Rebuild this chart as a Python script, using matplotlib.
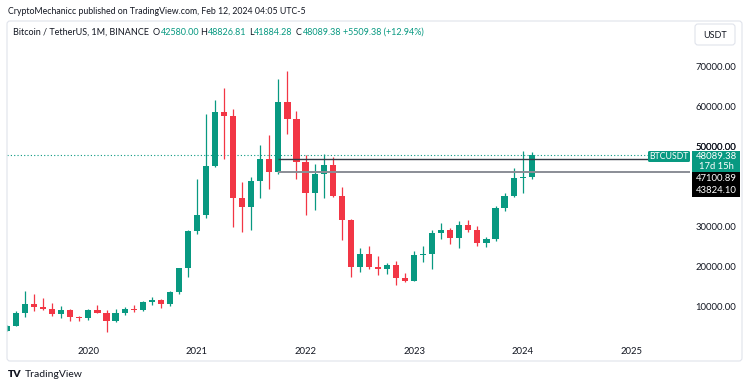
#!/usr/bin/env python3
# -*- coding: utf-8 -*-
"""
BTCUSDT monthly candles, TradingView style snapshot
"""
import matplotlib
matplotlib.use('Agg')
import matplotlib.pyplot as plt
from matplotlib.patches import FancyBboxPatch, Rectangle
from matplotlib.transforms import blended_transform_factory
import numpy as np

# monthly candles, first one is Apr 2019
months = ['2019-04', '2019-05', '2019-06', '2019-07', '2019-08', '2019-09', '2019-10', '2019-11', '2019-12',
          '2020-01', '2020-02', '2020-03', '2020-04', '2020-05', '2020-06', '2020-07', '2020-08', '2020-09',
          '2020-10', '2020-11', '2020-12',
          '2021-01', '2021-02', '2021-03', '2021-04', '2021-05', '2021-06', '2021-07', '2021-08', '2021-09',
          '2021-10', '2021-11', '2021-12',
          '2022-01', '2022-02', '2022-03', '2022-04', '2022-05', '2022-06', '2022-07', '2022-08', '2022-09',
          '2022-10', '2022-11', '2022-12',
          '2023-01', '2023-02', '2023-03', '2023-04', '2023-05', '2023-06', '2023-07', '2023-08', '2023-09',
          '2023-10', '2023-11', '2023-12',
          '2024-01', '2024-02']
opens = [4102, 5321, 8555, 10854, 10080, 9588, 8289, 9140, 7540,
         7195, 9351, 8523, 6412, 8620, 9448, 9138, 11335, 11649, 10776, 13791, 19695,
         28923, 33092, 45134, 58739, 57697, 37254, 35045, 41461, 47100, 43820, 61300, 56950,
         46216, 38466, 43160, 45510, 37631, 31801, 19942, 23296, 20048, 19422, 20490, 17165,
         16541, 23125, 23141, 28465, 29233, 27210, 30471, 29232, 25940, 26962, 34639, 37723,
         42283, 42580]
highs = [5600, 9074, 13970, 13147, 12325, 10948, 10370, 9513, 7750,
         9578, 10500, 9188, 9460, 10067, 10380, 11444, 12468, 12050, 14100, 19863, 29300,
         41950, 58352, 61844, 64854, 59592, 41330, 42448, 50500, 52920, 67000, 69000, 59053,
         47990, 45821, 48189, 47444, 40023, 31982, 24668, 25211, 22799, 20988, 21480, 18387,
         23960, 25250, 29184, 31000, 29820, 31431, 31804, 30244, 27483, 35198, 38450, 44700,
         48969, 48826]
lows = [4067, 5316, 7444, 9060, 9320, 7710, 7300, 6515, 6435,
        6871, 8445, 3782, 6150, 8117, 8833, 8893, 10518, 9825, 10374, 13195, 17572,
        28130, 32296, 44950, 47044, 30000, 28805, 29278, 37332, 39600, 43283, 53256, 42000,
        32917, 34322, 37155, 37578, 26700, 17622, 18781, 19520, 18125, 18190, 15476, 16256,
        16499, 21351, 19549, 26942, 25811, 24800, 28861, 25166, 24901, 26538, 34097, 37615,
        38555, 41884]
closes = [5320, 8555, 10854, 10080, 9587, 8289, 9140, 7541, 7195,
          9352, 8523, 6410, 8620, 9448, 9138, 11335, 11649, 10776, 13791, 19695, 28923,
          33092, 45135, 58740, 57694, 37253, 35045, 41461, 47100, 43824, 61299, 56950, 46216,
          38466, 43160, 45510, 37630, 31801, 19942, 23293, 20050, 19422, 20490, 17163, 16542,
          23125, 23141, 28465, 29233, 27210, 30472, 29232, 25940, 26962, 34639, 37723, 42283,
          42580, 48089.38]

price_ticks = [10000, 20000, 30000, 50000, 60000, 70000]
year_labels = ['2020', '2021', '2022', '2023', '2024', '2025']
level_hi = 47100.89
level_lo = 43824.10
last_price = 48089.38
level_start = '2021-10'

GREEN = '#089981'
RED = '#F23645'
TXT = '#131722'
W, H = 750, 388


def month_idx(s):
    # months counted from Jan 2020
    y, m = s.split('-')
    return (int(y) - 2020) * 12 + int(m) - 1


def fy(py):
    # pixel row (from top) -> figure fraction
    return 1 - py / H


fig = plt.figure(figsize=(W / 100, H / 100), dpi=100)
fig.patch.set_facecolor('white')

# main price pane
ax = fig.add_axes([7 / W, fy(361), (690 - 7) / W, (361 - 21) / H])
ax.set_xlim(-9.0, 66.5)
ax.set_ylim(-3500, 81500)
ax.axis('off')

x = np.array([month_idx(m) for m in months])
o = np.array(opens, dtype=float)
h = np.array(highs, dtype=float)
l = np.array(lows, dtype=float)
c = np.array(closes, dtype=float)
cols = [GREEN if cc >= oo else RED for oo, cc in zip(o, c)]
body = np.maximum(np.abs(c - o), 220)
ax.vlines(x, l, h, colors=cols, linewidth=0.9, zorder=2)
ax.bar(x, body, bottom=np.minimum(o, c), width=0.68, color=cols, zorder=3)

# levels
xs = month_idx(level_start)
ax.hlines(level_hi, xs, 66.5, color='#363a45', linewidth=1.0, zorder=4)
ax.hlines(level_lo, xs, 66.5, color='#8a8d96', linewidth=1.4, zorder=4)
ax.axhline(last_price, color=GREEN, linewidth=0.8, linestyle=(0, (1, 2)), zorder=1)

# year labels on time axis
tx = ax.get_xaxis_transform()
for i, yl in enumerate(year_labels):
    ax.text(i * 12, (361 - 351) / 340, yl, transform=tx, ha='center', va='center',
            fontsize=6.8, color=TXT, family='Lato')

# price axis labels
ptr = blended_transform_factory(fig.transFigure, ax.transData)
for p in price_ticks:
    ax.text(716 / W, p, f'{p:.2f}', transform=ptr, ha='center', va='center',
            fontsize=6.8, color=TXT, family='Lato', clip_on=False)
ax.text(716 / W, 50000, '50000.00', transform=ptr, ha='center', va='center',
        fontsize=6.8, color=TXT, family='Lato', clip_on=False)

# overlay in pixel coords for the chrome
ov = fig.add_axes([0, 0, 1, 1])
ov.set_xlim(0, W)
ov.set_ylim(H, 0)
ov.axis('off')

ov.add_patch(FancyBboxPatch((7, 21), 735, 340, boxstyle='round,pad=0,rounding_size=3',
                            fc='none', ec='#e0e3eb', lw=0.8))
ov.text(8, 11, 'CryptoMechanicc published on TradingView.com, Feb 12, 2024 04:05 UTC-5',
        fontsize=6.3, color=TXT, va='center', family='Lato')

ov.text(13, 32.5, 'Bitcoin / TetherUS, 1M, BINANCE', fontsize=6.5, color=TXT, va='center', family='Lato')
for px, lab, val in [(153, 'O', '42580.00'), (200, 'H', '48826.81'),
                     (249, 'L', '41884.28'), (296, 'C', '48089.38')]:
    t = ov.text(px, 32.5, lab, fontsize=6.5, color=TXT, va='center', family='Lato')
    ov.annotate(val, xy=(1, 0.5), xycoords=t, xytext=(0.5, 0), textcoords='offset points',
                va='center', ha='left', fontsize=6.5, color=GREEN, family='Lato')
ov.text(343, 32.5, '+5509.38 (+12.94%)', fontsize=6.5, color=GREEN, va='center', family='Lato')

ov.add_patch(FancyBboxPatch((695, 24), 40, 21, boxstyle='round,pad=0,rounding_size=3',
                            fc='white', ec='#e0e3eb', lw=0.8))
ov.text(715, 35, 'USDT', fontsize=6.5, color=TXT, ha='center', va='center', family='Lato')

# price tags
ov.add_patch(FancyBboxPatch((648, 151), 42, 11, boxstyle='round,pad=0,rounding_size=1.5',
                            fc=GREEN, ec='none', zorder=5))
ov.text(669, 156.8, 'BTCUSDT', fontsize=6.3, color='white', ha='center', va='center',
        family='Lato', zorder=6)
ov.add_patch(Rectangle((692, 151), 48, 21, fc=GREEN, ec='none', zorder=5))
ov.text(716, 156.5, f'{last_price:.2f}', fontsize=6.8, color='white', ha='center', va='center',
        family='Lato', zorder=6)
ov.text(716, 166.5, '17d 15h', fontsize=6.8, color='white', ha='center', va='center',
        family='Lato', zorder=6)
ov.add_patch(Rectangle((692, 172), 48, 25, fc='black', ec='none', zorder=5))
ov.text(716, 178.5, f'{level_hi:.2f}', fontsize=6.8, color='white', ha='center', va='center',
        family='Lato', zorder=6)
ov.text(716, 190.5, f'{level_lo:.2f}', fontsize=6.8, color='white', ha='center', va='center',
        family='Lato', zorder=6)

# footer logo
ov.text(8, 374.5, 'TV', fontsize=7.5, color=TXT, fontweight='heavy', va='center', family='Lato')
ov.text(25, 374.5, 'TradingView', fontsize=7.5, color=TXT, va='center', family='Lato')

plt.savefig('out.png', dpi=100, facecolor='white')
plt.close()
